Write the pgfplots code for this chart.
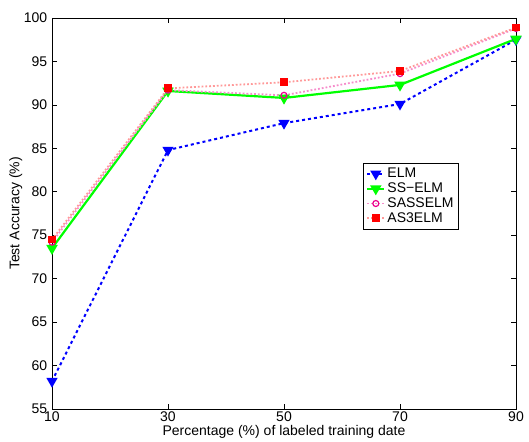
\documentclass[border=0pt]{standalone}
\usepackage{fontspec}
\setmainfont{Liberation Sans}
\usepackage{pgfplots}
\pgfplotsset{compat=1.18}
\begin{document}
\fontsize{14}{16}\selectfont
\begin{tikzpicture}
\begin{axis}[
    name=ax,
    scale only axis,
    width=464pt, height=391pt,
    xmin=10, xmax=90, ymin=55, ymax=100,
    xtick={10,30,50,70,90},
    ytick={55,60,...,100},
    tick align=inside,
    tick style={black, line width=0.6pt},
    major tick length=5pt,
    axis line style={black, line width=0.8pt},
    /pgf/number format/assume math mode=true,
    xticklabel style={yshift=2pt},
    xlabel={Percentage (\%)  of labeled training date},
    ylabel={Test Accuracy (\%)},
    xlabel style={yshift=6pt},
    ylabel style={yshift=-8pt},
    legend style={at={(0.67,0.63)}, anchor=north west, draw=black, line width=0.6pt,
        font=\fontsize{14}{15}\selectfont, row sep=-1pt, inner sep=3pt},
    legend cell align=left,
]
\addplot[blue, dashed, line width=2pt, mark=triangle*, mark size=4.5pt,
    mark options={solid, rotate=180, fill=blue}]
    coordinates {(10,58.2) (30,84.8) (50,87.9) (70,90.1) (90,97.5)};
\addlegendentry{ELM}
\addplot[green, line width=2.2pt, mark=triangle*, mark size=4.5pt,
    mark options={solid, rotate=180, fill=green}]
    coordinates {(10,73.5) (30,91.6) (50,90.8) (70,92.3) (90,97.6)};
\addlegendentry{SS−ELM}
\addplot[magenta!45, dotted, line width=1.8pt, mark=o, mark size=3pt,
    mark options={solid, magenta, line width=1.2pt}]
    coordinates {(10,74.2) (30,91.7) (50,91.1) (70,93.6) (90,98.8)};
\addlegendentry{SASSELM}
\addplot[red!40, dotted, line width=1.8pt, mark=square*, mark size=3pt,
    mark options={solid, red, fill=red}]
    coordinates {(10,74.5) (30,91.9) (50,92.6) (70,93.9) (90,98.9)};
\addlegendentry{AS3ELM}
\end{axis}
\pgfresetboundingbox
\path ([shift={(-52pt,-32pt)}]ax.south west) rectangle ([shift={(13pt,18pt)}]ax.north east);
\end{tikzpicture}
\end{document}
